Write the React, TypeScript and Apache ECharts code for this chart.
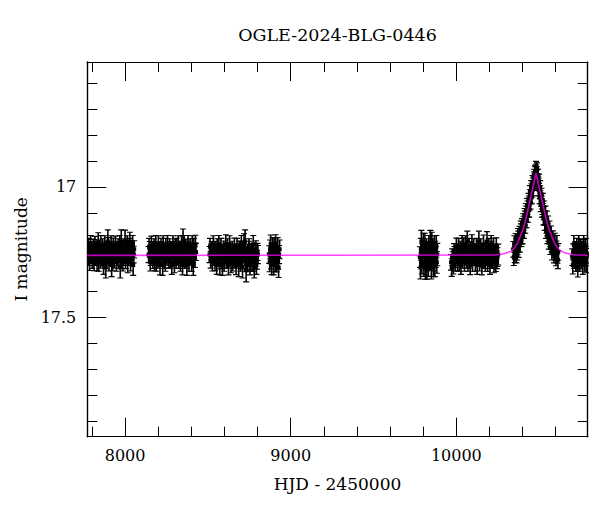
import React, { useEffect, useRef } from "react";
import * as echarts from "echarts";

const TITLE = "OGLE-2024-BLG-0446";
const X_NAME = "HJD - 2450000";
const Y_NAME = "I magnitude";

const X_MIN = 7772;
const X_MAX = 10793;
const Y_MIN = 16.52;
const Y_MAX = 17.96;

const xMajorTicks = [8000, 9000, 10000];
const xMinorTicks = [7800, 8200, 8400, 8600, 8800, 9200, 9400, 9600, 9800, 10200, 10400, 10600];
const yMajorTicks = [17, 17.5];
const yMinorTicks = [16.6, 16.7, 16.8, 16.9, 17.1, 17.2, 17.3, 17.4, 17.6, 17.7, 17.8, 17.9];

// [HJD-2450000, I mag, error]
const season2017 = [
  [7776, 17.25, 0.030], [7779, 17.23, 0.032], [7782, 17.27, 0.032], [7786, 17.29, 0.031], [7789, 17.24, 0.030], [7792, 17.22, 0.033], [7795, 17.26, 0.031],
  [7799, 17.24, 0.030], [7802, 17.28, 0.033], [7805, 17.26, 0.031], [7808, 17.23, 0.030], [7812, 17.29, 0.032], [7815, 17.25, 0.031], [7818, 17.22, 0.030], [7821, 17.27, 0.030],
  [7825, 17.24, 0.031], [7828, 17.26, 0.032], [7831, 17.29, 0.033], [7834, 17.24, 0.030], [7838, 17.21, 0.034], [7841, 17.29, 0.034], [7844, 17.26, 0.031], [7847, 17.25, 0.031],
  [7851, 17.28, 0.032], [7854, 17.22, 0.033], [7857, 17.27, 0.031], [7860, 17.26, 0.030], [7864, 17.23, 0.031], [7867, 17.27, 0.031], [7870, 17.30, 0.036], [7873, 17.25, 0.030],
  [7877, 17.22, 0.032], [7880, 17.28, 0.032], [7883, 17.31, 0.040], [7886, 17.24, 0.031], [7890, 17.27, 0.031], [7893, 17.26, 0.030], [7896, 17.21, 0.045], [7899, 17.23, 0.035],
  [7903, 17.29, 0.033], [7906, 17.27, 0.031], [7909, 17.24, 0.030], [7912, 17.25, 0.030], [7916, 17.22, 0.032], [7919, 17.30, 0.045], [7922, 17.26, 0.031], [7925, 17.29, 0.032],
  [7929, 17.23, 0.033], [7932, 17.24, 0.031], [7935, 17.28, 0.032], [7938, 17.26, 0.030], [7942, 17.22, 0.031], [7945, 17.25, 0.031], [7948, 17.29, 0.034], [7951, 17.27, 0.033],
  [7955, 17.24, 0.030], [7958, 17.23, 0.031], [7961, 17.28, 0.032], [7964, 17.26, 0.030], [7968, 17.22, 0.033], [7971, 17.31, 0.040], [7974, 17.25, 0.031], [7977, 17.21, 0.045],
  [7981, 17.27, 0.031], [7984, 17.24, 0.030], [7987, 17.29, 0.033], [7990, 17.27, 0.032], [7994, 17.23, 0.031], [7997, 17.26, 0.031], [8000, 17.21, 0.044], [8003, 17.28, 0.034],
  [8007, 17.24, 0.031], [8010, 17.25, 0.030], [8013, 17.22, 0.032], [8016, 17.29, 0.040], [8020, 17.27, 0.031], [8023, 17.26, 0.031], [8026, 17.23, 0.032], [8029, 17.21, 0.036],
  [8033, 17.29, 0.033], [8036, 17.27, 0.032], [8039, 17.24, 0.031], [8042, 17.25, 0.031], [8046, 17.22, 0.033], [8049, 17.30, 0.040], [8052, 17.26, 0.032], [8055, 17.24, 0.033],
];

const season2018 = [
  [8142, 17.26, 0.031], [8145, 17.23, 0.032], [8149, 17.24, 0.030], [8152, 17.29, 0.033], [8155, 17.27, 0.032], [8159, 17.22, 0.031], [8162, 17.25, 0.030],
  [8165, 17.27, 0.031], [8168, 17.28, 0.033], [8172, 17.24, 0.030], [8175, 17.23, 0.031], [8178, 17.29, 0.032], [8181, 17.26, 0.030], [8185, 17.22, 0.033], [8188, 17.29, 0.034],
  [8191, 17.27, 0.031], [8194, 17.25, 0.031], [8198, 17.28, 0.032], [8201, 17.22, 0.032], [8204, 17.24, 0.030], [8207, 17.26, 0.030], [8211, 17.30, 0.038], [8214, 17.27, 0.031],
  [8217, 17.23, 0.032], [8220, 17.24, 0.030], [8224, 17.27, 0.031], [8227, 17.30, 0.040], [8230, 17.22, 0.032], [8233, 17.25, 0.031], [8237, 17.28, 0.033], [8240, 17.26, 0.030],
  [8243, 17.29, 0.034], [8246, 17.23, 0.032], [8250, 17.25, 0.031], [8253, 17.27, 0.031], [8256, 17.22, 0.033], [8259, 17.25, 0.030], [8263, 17.28, 0.032], [8266, 17.25, 0.031],
  [8269, 17.23, 0.031], [8272, 17.28, 0.032], [8276, 17.24, 0.030], [8279, 17.26, 0.031], [8282, 17.30, 0.036], [8285, 17.24, 0.030], [8289, 17.22, 0.032], [8292, 17.27, 0.031],
  [8295, 17.25, 0.030], [8298, 17.29, 0.040], [8302, 17.23, 0.031], [8305, 17.25, 0.030], [8308, 17.28, 0.033], [8311, 17.23, 0.032], [8315, 17.27, 0.031], [8318, 17.26, 0.031],
  [8321, 17.22, 0.032], [8324, 17.28, 0.033], [8328, 17.24, 0.031], [8331, 17.25, 0.030], [8334, 17.29, 0.034], [8337, 17.24, 0.031], [8341, 17.22, 0.032], [8344, 17.27, 0.032],
  [8347, 17.30, 0.038], [8350, 17.21, 0.048], [8354, 17.26, 0.031], [8357, 17.22, 0.033], [8360, 17.28, 0.032], [8363, 17.25, 0.031], [8367, 17.23, 0.030], [8370, 17.28, 0.032],
  [8373, 17.30, 0.040], [8376, 17.26, 0.030], [8380, 17.22, 0.033], [8383, 17.24, 0.031], [8386, 17.29, 0.034], [8389, 17.27, 0.032], [8393, 17.23, 0.031], [8396, 17.25, 0.030],
  [8399, 17.27, 0.032], [8402, 17.29, 0.035], [8406, 17.22, 0.032], [8409, 17.26, 0.031], [8412, 17.30, 0.040], [8415, 17.23, 0.032], [8419, 17.25, 0.031], [8422, 17.27, 0.040],
  [8425, 17.22, 0.034], [8428, 17.25, 0.033],
];

const season2019 = [
  [8510, 17.26, 0.031], [8513, 17.23, 0.032], [8517, 17.28, 0.032], [8520, 17.25, 0.031], [8523, 17.24, 0.030], [8527, 17.29, 0.033], [8530, 17.27, 0.031],
  [8533, 17.22, 0.032], [8536, 17.25, 0.033], [8540, 17.27, 0.031], [8543, 17.29, 0.032], [8546, 17.24, 0.031], [8549, 17.26, 0.030], [8553, 17.30, 0.036], [8556, 17.23, 0.031],
  [8559, 17.25, 0.030], [8562, 17.27, 0.032], [8566, 17.22, 0.033], [8569, 17.28, 0.035], [8572, 17.30, 0.038], [8575, 17.25, 0.030], [8579, 17.23, 0.032], [8582, 17.26, 0.031],
  [8585, 17.28, 0.033], [8588, 17.30, 0.040], [8592, 17.26, 0.031], [8595, 17.24, 0.032], [8598, 17.29, 0.034], [8601, 17.27, 0.030], [8605, 17.25, 0.031], [8608, 17.22, 0.036],
  [8611, 17.28, 0.032], [8614, 17.26, 0.031], [8618, 17.23, 0.031], [8621, 17.28, 0.032], [8624, 17.30, 0.038], [8627, 17.25, 0.030], [8631, 17.22, 0.032], [8634, 17.27, 0.031],
  [8637, 17.25, 0.030], [8640, 17.29, 0.040], [8644, 17.27, 0.032], [8647, 17.24, 0.031], [8650, 17.29, 0.033], [8653, 17.26, 0.030], [8657, 17.28, 0.031], [8660, 17.23, 0.033],
  [8663, 17.25, 0.031], [8666, 17.27, 0.031], [8670, 17.30, 0.037], [8673, 17.28, 0.032], [8676, 17.23, 0.032], [8679, 17.25, 0.030], [8683, 17.27, 0.033], [8686, 17.30, 0.045],
  [8689, 17.24, 0.031], [8692, 17.26, 0.031], [8696, 17.29, 0.034], [8699, 17.24, 0.032], [8702, 17.22, 0.033], [8705, 17.28, 0.033], [8709, 17.31, 0.040], [8712, 17.26, 0.030],
  [8715, 17.24, 0.031], [8718, 17.22, 0.040], [8722, 17.27, 0.032], [8725, 17.21, 0.045], [8728, 17.29, 0.034], [8731, 17.32, 0.045], [8735, 17.26, 0.031], [8738, 17.25, 0.030],
  [8741, 17.29, 0.036], [8744, 17.27, 0.032], [8748, 17.23, 0.031], [8751, 17.24, 0.031], [8754, 17.30, 0.038], [8757, 17.28, 0.040], [8761, 17.25, 0.031], [8764, 17.26, 0.031],
  [8767, 17.29, 0.035], [8770, 17.25, 0.030], [8774, 17.22, 0.033], [8777, 17.29, 0.034], [8780, 17.31, 0.040], [8783, 17.27, 0.032], [8787, 17.25, 0.031], [8790, 17.24, 0.033],
  [8793, 17.30, 0.036], [8796, 17.28, 0.036], [8799, 17.25, 0.033], [8802, 17.26, 0.035],
];

const season2020 = [
  [8870, 17.26, 0.034], [8873, 17.29, 0.036], [8876, 17.24, 0.036], [8879, 17.22, 0.035], [8882, 17.28, 0.035], [8885, 17.30, 0.037],
  [8888, 17.25, 0.034], [8891, 17.23, 0.035], [8894, 17.27, 0.036], [8897, 17.30, 0.038], [8900, 17.23, 0.035], [8903, 17.26, 0.034],
  [8906, 17.29, 0.037], [8909, 17.22, 0.036], [8912, 17.26, 0.034], [8915, 17.29, 0.036], [8918, 17.25, 0.038], [8921, 17.23, 0.035],
  [8924, 17.28, 0.036], [8927, 17.31, 0.038], [8930, 17.26, 0.035], [8933, 17.24, 0.036],
];

const season2022 = [
  [9780, 17.27, 0.040], [9783, 17.31, 0.044], [9786, 17.24, 0.042], [9789, 17.21, 0.043], [9792, 17.29, 0.045], [9795, 17.26, 0.041],
  [9798, 17.25, 0.040], [9801, 17.22, 0.042], [9804, 17.30, 0.044], [9807, 17.27, 0.040], [9810, 17.22, 0.042], [9813, 17.31, 0.045],
  [9816, 17.27, 0.040], [9819, 17.24, 0.041], [9822, 17.31, 0.045], [9825, 17.28, 0.042], [9828, 17.25, 0.041], [9831, 17.30, 0.044],
  [9834, 17.23, 0.043], [9837, 17.26, 0.041], [9840, 17.28, 0.040], [9843, 17.21, 0.043], [9846, 17.26, 0.042], [9849, 17.31, 0.044],
  [9852, 17.22, 0.046], [9855, 17.27, 0.042], [9858, 17.24, 0.041], [9861, 17.30, 0.045], [9864, 17.28, 0.043], [9867, 17.23, 0.042],
  [9870, 17.30, 0.045], [9873, 17.25, 0.041], [9876, 17.27, 0.040], [9879, 17.23, 0.043], [9882, 17.29, 0.042], [9885, 17.26, 0.043],
];

const season2023 = [
  [9968, 17.29, 0.030], [9972, 17.31, 0.034], [9975, 17.27, 0.032], [9979, 17.28, 0.031], [9982, 17.30, 0.035], [9986, 17.25, 0.032], [9989, 17.26, 0.031],
  [9993, 17.29, 0.033], [9996, 17.28, 0.030], [10000, 17.23, 0.033], [10003, 17.25, 0.032], [10007, 17.29, 0.034], [10010, 17.27, 0.031], [10014, 17.23, 0.032],
  [10017, 17.29, 0.033], [10021, 17.26, 0.031], [10024, 17.24, 0.031], [10028, 17.30, 0.036], [10031, 17.26, 0.030], [10035, 17.22, 0.033], [10038, 17.28, 0.032],
  [10042, 17.26, 0.031], [10045, 17.23, 0.034], [10049, 17.29, 0.034], [10052, 17.27, 0.031], [10056, 17.22, 0.032], [10059, 17.25, 0.030], [10063, 17.28, 0.032],
  [10066, 17.21, 0.040], [10070, 17.29, 0.034], [10073, 17.26, 0.031], [10077, 17.23, 0.032], [10080, 17.28, 0.032], [10084, 17.30, 0.037], [10087, 17.24, 0.030],
  [10091, 17.27, 0.031], [10094, 17.22, 0.036], [10098, 17.29, 0.034], [10101, 17.27, 0.031], [10105, 17.23, 0.031], [10108, 17.25, 0.030], [10112, 17.27, 0.032],
  [10115, 17.29, 0.034], [10119, 17.25, 0.031], [10122, 17.23, 0.032], [10126, 17.30, 0.036], [10129, 17.26, 0.031], [10133, 17.24, 0.032], [10136, 17.21, 0.040],
  [10140, 17.29, 0.033], [10143, 17.27, 0.030], [10147, 17.23, 0.031], [10150, 17.25, 0.032], [10154, 17.30, 0.038], [10157, 17.28, 0.031], [10161, 17.25, 0.031],
  [10164, 17.22, 0.035], [10168, 17.28, 0.033], [10171, 17.26, 0.030], [10175, 17.29, 0.034], [10178, 17.24, 0.032], [10182, 17.27, 0.031], [10185, 17.21, 0.038],
  [10189, 17.29, 0.035], [10192, 17.27, 0.031], [10196, 17.23, 0.032], [10199, 17.25, 0.030], [10203, 17.30, 0.036], [10206, 17.28, 0.033], [10210, 17.22, 0.033],
  [10213, 17.24, 0.031], [10217, 17.28, 0.032], [10220, 17.26, 0.032], [10224, 17.23, 0.033], [10227, 17.29, 0.040], [10231, 17.27, 0.032], [10234, 17.25, 0.031],
  [10238, 17.29, 0.035], [10241, 17.23, 0.034], [10245, 17.28, 0.034], [10248, 17.27, 0.036], [10253, 17.26, 0.040],
];

const season2024 = [
  [10344, 17.24, 0.030], [10347, 17.27, 0.032], [10350, 17.22, 0.032], [10353, 17.26, 0.031], [10355, 17.25, 0.030], [10358, 17.21, 0.031],
  [10360, 17.23, 0.031], [10363, 17.26, 0.032], [10365, 17.21, 0.030], [10368, 17.25, 0.031], [10370, 17.23, 0.031], [10372, 17.19, 0.030],
  [10374, 17.20, 0.030], [10376, 17.24, 0.031], [10378, 17.22, 0.031], [10380, 17.18, 0.029], [10382, 17.19, 0.029], [10384, 17.22, 0.030],
  [10386, 17.20, 0.030], [10388, 17.16, 0.029], [10390, 17.17, 0.028], [10392, 17.20, 0.029], [10394, 17.19, 0.029], [10396, 17.15, 0.028],
  [10398, 17.16, 0.028], [10400, 17.19, 0.029], [10402, 17.17, 0.028], [10404, 17.13, 0.027], [10406, 17.14, 0.027], [10408, 17.17, 0.028],
  [10410, 17.15, 0.028], [10412, 17.11, 0.027], [10414, 17.12, 0.027], [10416, 17.15, 0.028], [10418, 17.13, 0.027], [10420, 17.09, 0.026],
  [10422, 17.10, 0.026], [10424, 17.13, 0.027], [10426, 17.11, 0.026], [10428, 17.07, 0.026], [10430, 17.08, 0.026], [10432, 17.11, 0.026],
  [10434, 17.09, 0.026], [10436, 17.05, 0.025], [10438, 17.06, 0.025], [10440, 17.09, 0.026], [10442, 17.065, 0.025], [10444, 17.02, 0.025],
  [10446, 17.035, 0.025], [10448, 17.06, 0.025], [10450, 17.04, 0.025], [10452, 17.00, 0.024], [10454, 17.01, 0.024], [10456, 17.04, 0.025],
  [10458, 17.015, 0.024], [10460, 16.98, 0.024], [10462, 16.99, 0.024], [10464, 17.01, 0.024], [10466, 16.985, 0.024], [10468, 16.955, 0.023],
  [10470, 16.965, 0.023], [10472, 16.99, 0.024], [10473, 16.97, 0.023], [10475, 16.94, 0.023], [10476, 16.945, 0.023], [10478, 16.965, 0.023],
  [10479, 16.94, 0.023], [10481, 16.925, 0.023], [10482, 16.935, 0.023], [10484, 16.96, 0.023], [10485, 16.945, 0.023], [10487, 16.93, 0.023],
  [10488, 16.955, 0.023], [10490, 16.98, 0.024], [10491, 16.975, 0.024], [10493, 16.955, 0.023], [10494, 16.985, 0.024], [10496, 17.01, 0.024],
  [10497, 16.99, 0.024], [10499, 16.975, 0.024], [10500, 17.01, 0.024], [10502, 17.04, 0.025], [10504, 17.02, 0.025], [10506, 17.00, 0.024],
  [10508, 17.04, 0.025], [10510, 17.07, 0.025], [10512, 17.05, 0.025], [10514, 17.03, 0.025], [10516, 17.06, 0.025], [10518, 17.09, 0.026],
  [10520, 17.08, 0.026], [10522, 17.05, 0.025], [10524, 17.09, 0.026], [10526, 17.12, 0.026], [10528, 17.10, 0.026], [10530, 17.08, 0.026],
  [10532, 17.12, 0.027], [10534, 17.14, 0.027], [10536, 17.12, 0.027], [10538, 17.10, 0.026], [10540, 17.14, 0.027], [10542, 17.17, 0.028],
  [10544, 17.15, 0.028], [10546, 17.12, 0.027], [10548, 17.16, 0.028], [10550, 17.19, 0.028], [10552, 17.17, 0.028], [10554, 17.14, 0.028],
  [10556, 17.18, 0.029], [10558, 17.21, 0.029], [10560, 17.19, 0.029], [10562, 17.16, 0.029], [10565, 17.20, 0.030], [10567, 17.23, 0.030],
  [10570, 17.21, 0.030], [10572, 17.18, 0.030], [10575, 17.22, 0.030], [10577, 17.25, 0.031], [10580, 17.22, 0.031], [10583, 17.20, 0.031],
  [10586, 17.23, 0.031], [10589, 17.26, 0.032], [10592, 17.24, 0.031], [10595, 17.21, 0.032], [10598, 17.25, 0.032], [10601, 17.27, 0.033],
  [10604, 17.24, 0.032], [10607, 17.22, 0.033], [10610, 17.26, 0.033], [10613, 17.28, 0.034], [10615, 17.25, 0.032],
];

const season2025 = [
  [10700, 17.27, 0.032], [10703, 17.30, 0.035], [10706, 17.25, 0.031], [10709, 17.22, 0.033], [10712, 17.28, 0.033], [10715, 17.26, 0.032],
  [10718, 17.24, 0.030], [10721, 17.29, 0.034], [10724, 17.26, 0.031], [10727, 17.23, 0.032], [10730, 17.29, 0.034], [10733, 17.31, 0.036],
  [10736, 17.25, 0.030], [10739, 17.22, 0.033], [10742, 17.27, 0.032], [10745, 17.29, 0.034], [10748, 17.23, 0.031], [10751, 17.26, 0.032],
  [10754, 17.28, 0.035], [10757, 17.24, 0.032], [10760, 17.26, 0.031], [10763, 17.30, 0.036], [10766, 17.24, 0.030], [10769, 17.22, 0.033],
  [10772, 17.27, 0.033], [10775, 17.29, 0.034], [10778, 17.25, 0.031], [10781, 17.23, 0.032], [10784, 17.29, 0.040], [10787, 17.27, 0.033],
  [10790, 17.26, 0.032],
];

// model light curve: [HJD-2450000, I mag]
const modelCurve = [
  [7772, 17.263], [10200, 17.262], [10271, 17.259], [10331, 17.246], [10366, 17.22],
  [10386, 17.19], [10406, 17.156], [10419, 17.125], [10431, 17.092], [10442, 17.06],
  [10453, 17.028], [10468, 16.985], [10475, 16.962], [10481, 16.949], [10487, 16.962],
  [10494, 16.985], [10509, 17.028], [10520, 17.06], [10531, 17.092], [10543, 17.125],
  [10556, 17.156], [10576, 17.19], [10596, 17.22], [10631, 17.246], [10691, 17.259],
  [10760, 17.262], [10793, 17.263],
];

const FONT = "'DejaVu Serif', 'Liberation Serif', serif";

function renderErrorBar(params: any, api: any) {
  const x = api.value(0);
  const y = api.value(1);
  const e = api.value(2);
  const p = api.coord([x, y]);
  const t = api.coord([x, y - e]);
  const b = api.coord([x, y + e]);
  const hw = 3;
  const bar = { stroke: "#000", lineWidth: 1.6 };
  const cap = { stroke: "#000", lineWidth: 1.1 };
  return {
    type: "group",
    children: [
      { type: "line", shape: { x1: p[0], y1: t[1], x2: p[0], y2: b[1] }, style: bar },
      { type: "line", shape: { x1: p[0] - hw, y1: t[1], x2: p[0] + hw, y2: t[1] }, style: cap },
      { type: "line", shape: { x1: p[0] - hw, y1: b[1], x2: p[0] + hw, y2: b[1] }, style: cap },
      { type: "rect", shape: { x: p[0] - 2, y: p[1] - 2, width: 4, height: 4 }, style: { fill: "#000" } },
    ],
  };
}

const plainNumber = (v: number) => String(v);

function xAxisDef(position: string, ticks: number[], len: number, withLabel: boolean, withName: boolean) {
  return {
    type: "value",
    position,
    min: X_MIN,
    max: X_MAX,
    gridIndex: 0,
    axisLine: { show: true, lineStyle: { color: "#000", width: 1.2 } },
    axisTick: { show: true, inside: true, length: len, customValues: ticks, lineStyle: { color: "#000", width: 1 } },
    axisLabel: withLabel
      ? { show: true, customValues: ticks, formatter: plainNumber, color: "#000", fontFamily: FONT, fontSize: 16, margin: 11 }
      : { show: false },
    splitLine: { show: false },
    name: withName ? X_NAME : "",
    nameLocation: "middle",
    nameGap: 39,
    nameTextStyle: { color: "#000", fontFamily: FONT, fontSize: 17 },
  };
}

function yAxisDef(position: string, ticks: number[], len: number, withLabel: boolean, withName: boolean) {
  return {
    type: "value",
    position,
    inverse: true,
    min: Y_MIN,
    max: Y_MAX,
    gridIndex: 0,
    axisLine: { show: true, lineStyle: { color: "#000", width: 1.2 } },
    axisTick: { show: true, inside: true, length: len, customValues: ticks, lineStyle: { color: "#000", width: 1 } },
    axisLabel: withLabel
      ? { show: true, customValues: ticks, formatter: plainNumber, color: "#000", fontFamily: FONT, fontSize: 16, margin: 11 }
      : { show: false },
    splitLine: { show: false },
    name: withName ? Y_NAME : "",
    nameLocation: "middle",
    nameGap: 57,
    nameRotate: 90,
    nameTextStyle: { color: "#000", fontFamily: FONT, fontSize: 17 },
  };
}

export default function App() {
  const ref = useRef<HTMLDivElement>(null);
  useEffect(() => {
    if (!ref.current) return;
    const chart = echarts.init(ref.current, undefined, { renderer: "svg" });
    const seasons = [season2017, season2018, season2019, season2020, season2022, season2023, season2024, season2025];
    const series: any[] = seasons.map((s) => ({
      type: "custom",
      xAxisIndex: 0,
      yAxisIndex: 0,
      data: s,
      encode: { x: 0, y: 1 },
      clip: true,
      silent: true,
      z: 2,
      renderItem: renderErrorBar,
    }));
    series.push({
      type: "line",
      xAxisIndex: 0,
      yAxisIndex: 0,
      data: modelCurve,
      showSymbol: false,
      smooth: 0.3,
      clip: true,
      silent: true,
      z: 5,
      lineStyle: { color: "#ff00ff", width: 1.6, opacity: 0.75 },
    });
    chart.setOption({
      animation: false,
      backgroundColor: "#fff",
      grid: { left: 87.3, right: 12.3, top: 62, bottom: 75.3, containLabel: false, outerBoundsMode: "none" },
      graphic: [
        {
          type: "text",
          x: 337.5,
          y: 35,
          style: {
            text: TITLE,
            fill: "#000",
            font: `17.5px ${FONT}`,
            textAlign: "center",
            textVerticalAlign: "middle",
          },
        },
      ],
      xAxis: [
        xAxisDef("bottom", xMajorTicks, 19, true, true),
        xAxisDef("bottom", xMinorTicks, 10, false, false),
        xAxisDef("top", xMajorTicks, 19, false, false),
        xAxisDef("top", xMinorTicks, 10, false, false),
      ],
      yAxis: [
        yAxisDef("left", yMajorTicks, 19, true, true),
        yAxisDef("left", yMinorTicks, 10, false, false),
        yAxisDef("right", yMajorTicks, 19, false, false),
        yAxisDef("right", yMinorTicks, 10, false, false),
      ],
      series,
    });
    return () => chart.dispose();
  }, []);
  return (
    <div
      ref={ref}
      style={{ position: "fixed", left: 0, top: 0, width: 600, height: 512, background: "#fff" }}
    />
  );
}
